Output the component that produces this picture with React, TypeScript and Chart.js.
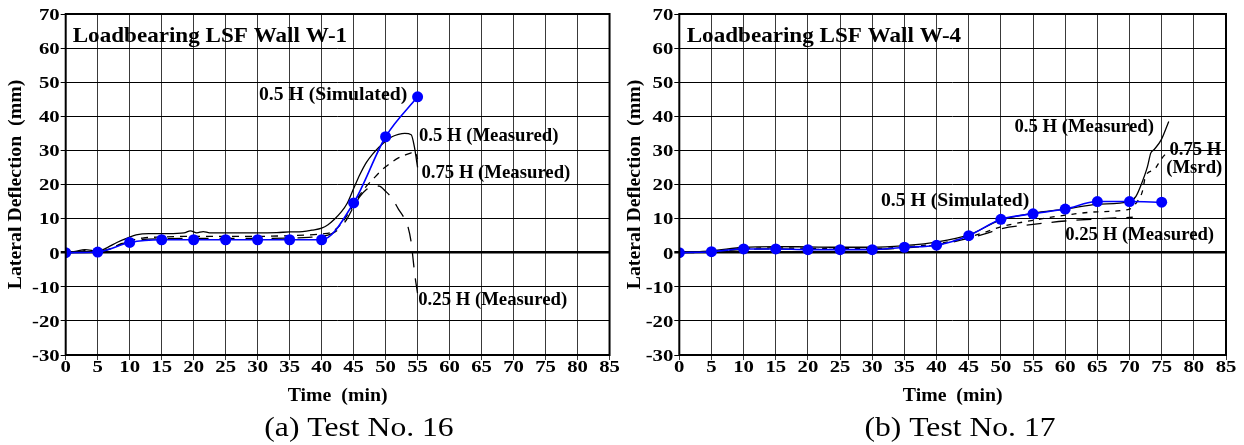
import React, { useEffect, useRef } from "react";
import { Chart, registerables } from "chart.js";

Chart.register(...registerables);

const FONT = "'Liberation Serif', 'Times New Roman', Times, serif";

// ---------- axes ----------
const xTicks = [0, 5, 10, 15, 20, 25, 30, 35, 40, 45, 50, 55, 60, 65, 70, 75, 80, 85];
const yTicks = [-30, -20, -10, 0, 10, 20, 30, 40, 50, 60, 70];
const xTitle = "Time  (min)";
const yTitle = "Lateral Deflection  (mm)";

// ---------- (a) Test No. 16 : W-1 ----------
const w1SimTime = [0, 5, 10, 15, 20, 25, 30, 35, 40, 45, 50, 55];
const w1Sim = [0, 0.2, 3.0, 3.8, 3.8, 3.8, 3.8, 3.8, 3.8, 14.6, 34, 45.7];

const w1MidTime = [0, 1.5, 3, 5, 6.5, 8, 9.5, 11, 13, 16, 18.5, 19.5, 20.5, 21.5, 22.5, 25, 30, 33, 35, 37, 38.5, 40, 41, 42, 43, 44, 45, 46, 47, 48, 49, 50, 51, 52, 53, 54, 54.5, 55];
const w1Mid = [0, 0.4, 0.9, 0.4, 1.5, 3, 4.2, 5.2, 5.6, 5.6, 5.8, 6.4, 5.8, 6.2, 5.8, 5.8, 5.8, 5.9, 6.1, 6.2, 6.6, 7.2, 8.2, 9.8, 11.8, 14.5, 18.8, 23, 26.5, 29, 31, 32.7, 34, 34.7, 35, 34.6, 31, 25];

const w1Q75Time = [0, 2, 3.5, 5, 7, 8.5, 10, 12, 15, 20, 25, 30, 35, 38, 40, 41.5, 43, 44, 45, 46, 47, 48, 49, 50, 51, 52, 53, 54, 54.6, 55];
const w1Q75 = [0, 0.2, 0.8, 0.3, 1.2, 2.5, 3.5, 4.3, 4.6, 4.8, 4.8, 4.8, 5, 5.2, 5.5, 6, 8.3, 11, 14, 17, 19.5, 21.5, 23.5, 25.2, 26.6, 27.8, 28.6, 29.3, 29.5, 27.5];

const w1Q25Time = [0, 2, 3.5, 5, 7, 8.5, 10, 12, 15, 20, 25, 30, 35, 38, 40, 41.5, 43, 44, 45, 46, 47, 48, 49, 50, 51, 52, 53, 53.5, 54, 54.3, 54.6, 55];
const w1Q25 = [0, 0.2, 0.7, 0.3, 1.2, 2.4, 3.3, 3.9, 4.1, 4.2, 4.2, 4.2, 4.3, 4.5, 4.8, 5.5, 7.5, 10, 13.5, 16.5, 18.5, 19.6, 19.5, 18, 16, 12.8, 9.8, 7.6, 3, -2, -7, -12];

// ---------- (b) Test No. 17 : W-4 ----------
const w4SimTime = [0, 5, 10, 15, 20, 25, 30, 35, 40, 45, 50, 55, 60, 65, 70, 75];
const w4Sim = [0, 0.3, 1.1, 1.1, 0.9, 0.9, 0.9, 1.6, 2.2, 5, 9.8, 11.4, 12.8, 15, 15, 14.8];

const w4MidTime = [0, 5, 10, 15, 20, 25, 30, 35, 40, 45, 50, 55, 60, 65, 70, 71, 71.7, 72.8, 73.3, 73.8, 74.9, 76.1];
const w4Mid = [0, 0.5, 1.6, 1.8, 1.7, 1.6, 1.6, 2.1, 3.1, 5.2, 9.6, 11.6, 12.8, 14.2, 15, 16.5, 19.4, 25.3, 29.2, 30.2, 33, 38.5];

const w4Q75Time = [0, 5, 10, 15, 20, 25, 30, 35, 40, 45, 47.5, 50, 55, 60, 65, 70, 71, 72, 72.5, 73.8, 74.9, 75.6];
const w4Q75 = [0, 0.3, 1.2, 1.4, 1.3, 1.2, 1.2, 1.7, 2.6, 4.6, 6, 7.6, 9.5, 11, 12, 12.8, 14.5, 18, 22.5, 24.3, 27.3, 29];

const w4Q25Time = [0, 5, 10, 15, 20, 25, 30, 35, 40, 45, 47.5, 50, 55, 60, 65, 70.5];
const w4Q25 = [0, 0.2, 1, 1.1, 1, 1, 1, 1.4, 2.3, 4.2, 5.5, 7, 8.3, 9.3, 9.9, 10.4];

// ---------- text labels (data coordinates) ----------
type Note = { text: string; x: number; y: number; align: CanvasTextAlign; size: number; sx: number };

const w1Notes: Note[] = [
  { text: "Loadbearing LSF Wall W-1", x: 1.09, y: 63.6, align: "left", size: 22, sx: 1.05 },
  { text: "0.5 H (Simulated)", x: 30.2, y: 46.3, align: "left", size: 19.5, sx: 1.01 },
  { text: "0.5 H (Measured)", x: 55.2, y: 34.1, align: "left", size: 19.5, sx: 0.96 },
  { text: "0.75 H (Measured)", x: 55.6, y: 23.5, align: "left", size: 19.5, sx: 0.96 },
  { text: "0.25 H (Measured)", x: 55.1, y: -13.8, align: "left", size: 19.5, sx: 0.96 },
];

const w4Notes: Note[] = [
  { text: "Loadbearing LSF Wall W-4", x: 1.15, y: 63.6, align: "left", size: 22, sx: 1.05 },
  { text: "0.5 H (Measured)", x: 52.1, y: 37.0, align: "left", size: 19.5, sx: 0.96 },
  { text: "0.75 H", x: 76.2, y: 30.2, align: "left", size: 19.5, sx: 0.96 },
  { text: "(Msrd)", x: 75.7, y: 24.8, align: "left", size: 19.5, sx: 0.96 },
  { text: "0.5 H (Simulated)", x: 54.4, y: 15.2, align: "right", size: 19.5, sx: 1.01 },
  { text: "0.25 H (Measured)", x: 60.0, y: 5.1, align: "left", size: 19.5, sx: 0.96 },
];

type Panel = {
  caption: string;
  captionX: number;
  yTitleX: number;
  axisWidth: number;
  padRight: number;
  notes: Note[];
  sim: [number[], number[]];
  mid: [number[], number[]];
  q75: [number[], number[]];
  q25: [number[], number[]];
  q75Dash: number[];
  q25Dash: number[];
};

const panels: Panel[] = [
  {
    caption: "(a) Test No. 16",
    captionX: 359,
    yTitleX: 21.4,
    axisWidth: 65.7,
    padRight: 9.3,
    notes: w1Notes,
    sim: [w1SimTime, w1Sim],
    mid: [w1MidTime, w1Mid],
    q75: [w1Q75Time, w1Q75],
    q25: [w1Q25Time, w1Q25],
    q75Dash: [7, 6],
    q25Dash: [15, 11],
  },
  {
    caption: "(b) Test No. 17",
    captionX: 338,
    yTitleX: 17.7,
    axisWidth: 57.3,
    padRight: 18,
    notes: w4Notes,
    sim: [w4SimTime, w4Sim],
    mid: [w4MidTime, w4Mid],
    q75: [w4Q75Time, w4Q75],
    q25: [w4Q25Time, w4Q25],
    q75Dash: [5, 6],
    q25Dash: [15, 10],
  },
];

function pts(t: number[], v: number[]) {
  return t.map((x, i) => ({ x, y: v[i] }));
}

function drawText(
  ctx: CanvasRenderingContext2D,
  text: string,
  x: number,
  y: number,
  font: string,
  sx: number,
  align: CanvasTextAlign,
  baseline: CanvasTextBaseline,
  rot = 0
) {
  ctx.save();
  ctx.translate(x, y);
  if (rot) ctx.rotate(rot);
  ctx.scale(sx, 1);
  ctx.font = font;
  ctx.textAlign = align;
  ctx.textBaseline = baseline;
  ctx.fillStyle = "#000";
  ctx.fillText(text, 0, 0);
  ctx.restore();
}

function makeChart(canvas: HTMLCanvasElement, p: Panel) {
  const decor = {
    id: "decor",
    afterDraw(chart: any) {
      const ctx: CanvasRenderingContext2D = chart.ctx;
      const ca = chart.chartArea;
      const xs = chart.scales.x;
      const ys = chart.scales.y;
      // frame
      ctx.save();
      ctx.strokeStyle = "#000";
      ctx.lineWidth = 2;
      ctx.strokeRect(ca.left, ca.top, ca.right - ca.left, ca.bottom - ca.top);
      ctx.restore();
      // tick labels
      const tickFont = `bold 17px ${FONT}`;
      xTicks.forEach((v) => {
        drawText(ctx, String(v), xs.getPixelForValue(v), 372, tickFont, 1.22, "center", "alphabetic");
      });
      yTicks.forEach((v) => {
        drawText(ctx, String(v), ca.left - 6, ys.getPixelForValue(v) + 5.8, tickFont, 1.22, "right", "alphabetic");
      });
      // axis titles
      const titleFont = `bold 18px ${FONT}`;
      drawText(ctx, xTitle, (ca.left + ca.right) / 2, 401.4, titleFont, 1.1, "center", "alphabetic");
      drawText(ctx, yTitle, p.yTitleX, (ca.top + ca.bottom) / 2, titleFont, 1.1, "center", "alphabetic", -Math.PI / 2);
      // notes
      p.notes.forEach((n) => {
        drawText(ctx, n.text, xs.getPixelForValue(n.x), ys.getPixelForValue(n.y), `bold ${n.size}px ${FONT}`, n.sx, n.align, "middle");
      });
      // caption
      drawText(ctx, p.caption, p.captionX, 436, `28px ${FONT}`, 1.13, "center", "alphabetic");
    },
  };

  return new Chart(canvas, {
    type: "line",
    data: {
      datasets: [
        {
          label: "0.5 H (Simulated)",
          data: pts(p.sim[0], p.sim[1]),
          borderColor: "#0000ff",
          backgroundColor: "#0000ff",
          borderWidth: 1.6,
          pointRadius: 5.5,
          pointBorderWidth: 0,
          cubicInterpolationMode: "monotone",
          order: 0,
        },
        {
          label: "0.5 H (Measured)",
          data: pts(p.mid[0], p.mid[1]),
          borderColor: "#000",
          borderWidth: 1.3,
          pointRadius: 0,
          cubicInterpolationMode: "monotone",
          order: 1,
        },
        {
          label: "0.75 H (Measured)",
          data: pts(p.q75[0], p.q75[1]),
          borderColor: "#000",
          borderWidth: 1.3,
          borderDash: p.q75Dash,
          pointRadius: 0,
          cubicInterpolationMode: "monotone",
          order: 2,
        },
        {
          label: "0.25 H (Measured)",
          data: pts(p.q25[0], p.q25[1]),
          borderColor: "#000",
          borderWidth: 1.3,
          borderDash: p.q25Dash,
          pointRadius: 0,
          cubicInterpolationMode: "monotone",
          order: 3,
        },
      ],
    },
    options: {
      animation: false,
      responsive: false,
      devicePixelRatio: 1,
      events: [],
      layout: { padding: { left: 0, right: p.padRight, top: 14, bottom: 0 } },
      plugins: { legend: { display: false }, tooltip: { enabled: false } },
      scales: {
        x: {
          type: "linear",
          min: 0,
          max: 85,
          afterFit: (s: any) => {
            s.height = 90;
          },
          afterBuildTicks: (s: any) => {
            s.ticks = xTicks.map((v) => ({ value: v }));
          },
          ticks: { color: "rgba(0,0,0,0)", font: { size: 17 } },
          border: { display: false },
          grid: { color: "#3a3a3a", lineWidth: 1, tickLength: 5, drawTicks: true },
        },
        y: {
          type: "linear",
          min: -30,
          max: 70,
          afterFit: (s: any) => {
            s.width = p.axisWidth;
          },
          afterBuildTicks: (s: any) => {
            s.ticks = yTicks.map((v) => ({ value: v }));
          },
          ticks: { color: "rgba(0,0,0,0)", font: { size: 17 } },
          border: { display: false },
          grid: {
            color: "#000",
            lineWidth: (c: any) => (c.tick && c.tick.value === 0 ? 2.5 : 1),
            tickLength: 5,
            drawTicks: true,
          },
        },
      },
    } as any,
    plugins: [decor],
  });
}

function PanelChart({ p, left }: { p: Panel; left: number }) {
  const ref = useRef<HTMLCanvasElement | null>(null);
  useEffect(() => {
    if (!ref.current) return;
    const c = makeChart(ref.current, p);
    return () => c.destroy();
  }, [p]);
  return (
    <canvas
      ref={ref}
      width={622}
      height={445}
      style={{ position: "absolute", left, top: 0, width: 622, height: 445 }}
    />
  );
}

export default function App() {
  useEffect(() => {
    document.body.style.margin = "0";
  }, []);
  return (
    <div style={{ position: "relative", width: 1244, height: 445, background: "#fff" }}>
      <PanelChart p={panels[0]} left={0} />
      <PanelChart p={panels[1]} left={622} />
    </div>
  );
}
